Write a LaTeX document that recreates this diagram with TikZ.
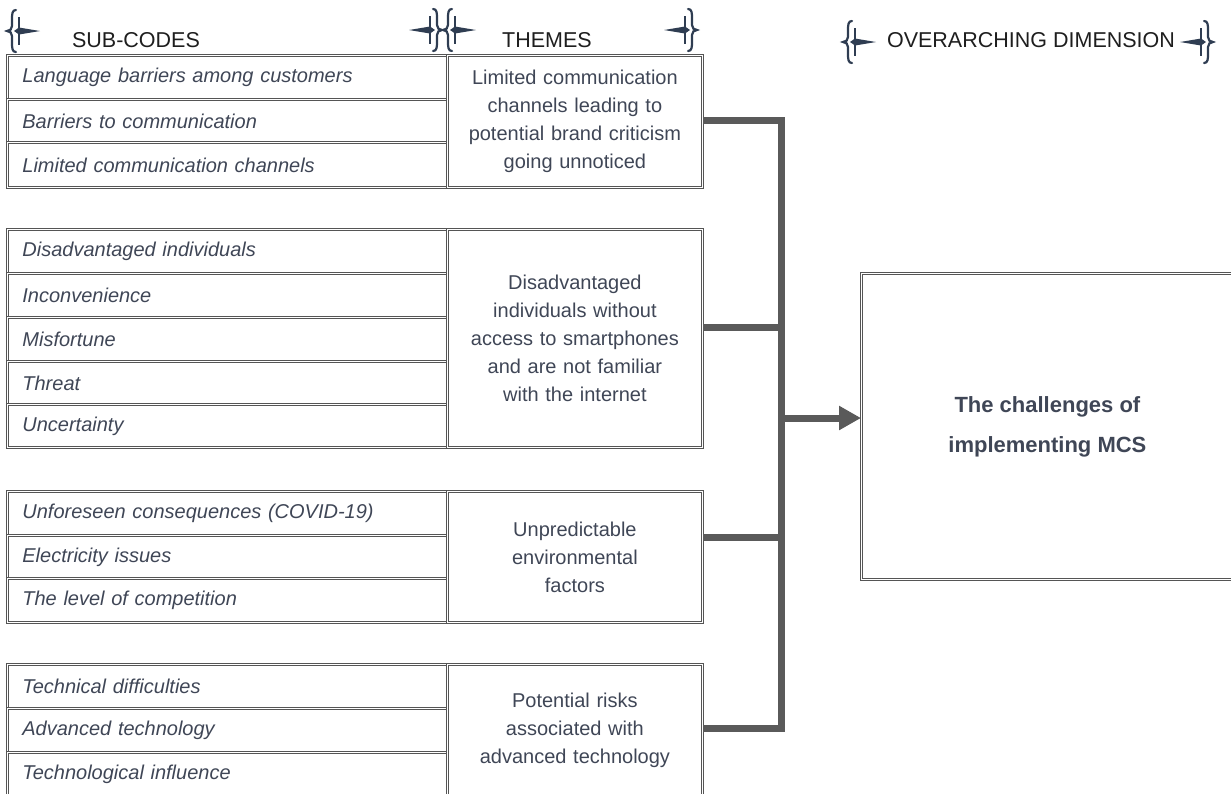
\documentclass[tikz,border=0pt]{standalone}
\usepackage{fontspec}
\setmainfont{Liberation Sans}
\usetikzlibrary{arrows.meta,calc}

\definecolor{txt}{HTML}{3F4656}
\definecolor{hdr}{HTML}{1E1E1E}
\definecolor{rulec}{HTML}{555555}
\definecolor{busc}{HTML}{5A5A5A}
\definecolor{ornc}{HTML}{2F3D52}

\tikzset{
  boxline/.style={draw=rulec, line width=0.8pt, double=white, double distance=1.4pt},
  cell/.style={boxline, rectangle, anchor=north west, minimum width=440pt,
    minimum height=#1, text width=410pt, align=left, inner xsep=15pt, inner ysep=0pt,
    font=\fontsize{20}{24}\selectfont\itshape, text=txt},
  theme/.style={boxline, rectangle, anchor=north west, minimum width=255pt,
    minimum height=#1, text width=235pt, align=center, inner xsep=10pt, inner ysep=0pt,
    font=\fontsize{20}{28}\selectfont, text=txt},
  mainbox/.style={boxline, rectangle, anchor=north west, minimum width=372pt,
    minimum height=306pt, align=center,
    font=\fontsize{22}{40}\selectfont\bfseries, text=txt},
  header/.style={font=\fontsize{21.5}{24}\selectfont, text=hdr, inner sep=0pt},
  bus/.style={draw=busc, line width=7pt},
  ornament/.pic={
    \draw[ornc, line width=2.2pt, line cap=round]
      (5,-21) .. controls (1,-21) and (1,-17) .. (1,-11) -- (1,-5)
      .. controls (1,-2) and (-1,0) .. (-4,0)
      .. controls (-1,0) and (1,2) .. (1,5) -- (1,11)
      .. controls (1,17) and (1,21) .. (5,21);
    \draw[ornc, line width=1.2pt] (8,-14) -- (8,14);
    \fill[ornc] (3,0) -- (8,-3.5) -- (29,0) -- (8,3.5) -- cycle;
  }
}

\begin{document}
\begin{tikzpicture}[x=1pt, y=-1pt]
\useasboundingbox (0,0) rectangle (1231,793);
\clip (0,0) rectangle (1231,793);

% column headings with bracket ornaments
\node[header] (h1) at (136,40) {SUB-CODES};
\node[header] (h2) at (547,40) {THEMES};
\node[header] (h3) at (1031,40) {OVERARCHING DIMENSION};
\pic at (11,31) {ornament};
\pic[xscale=-1] at (438,30) {ornament};
\pic at (447,30) {ornament};
\pic[xscale=-1] at (693,30) {ornament};
\pic at (847,42) {ornament};
\pic[xscale=-1] at (1209,42) {ornament};

% group 1
\node[cell=44pt] (s11) at (7,55) {Language barriers among customers};
\node[cell=43pt] (s12) at (7,99) {Barriers to communication};
\node[cell=45pt] (s13) at (7,142) {Limited communication channels};
\node[theme=132pt] (t1) at (447,55) {Limited communication\\channels leading to\\potential brand criticism\\going unnoticed};

% group 2
\node[cell=44pt] (s21) at (7,229) {Disadvantaged individuals};
\node[cell=44pt] (s22) at (7,273) {Inconvenience};
\node[cell=44pt] (s23) at (7,317) {Misfortune};
\node[cell=43pt] (s24) at (7,361) {Threat};
\node[cell=43pt] (s25) at (7,404) {Uncertainty};
\node[theme=218pt] (t2) at (447,229) {Disadvantaged\\individuals without\\access to smartphones\\and are not familiar\\with the internet};

% group 3
\node[cell=44pt] (s31) at (7,491) {Unforeseen consequences (COVID-19)};
\node[cell=43pt] (s32) at (7,535) {Electricity issues};
\node[cell=44pt] (s33) at (7,578) {The level of competition};
\node[theme=131pt] (t3) at (447,491) {Unpredictable\\environmental\\factors};

% group 4
\node[cell=44pt] (s41) at (7,664) {Technical difficulties};
\node[cell=44pt] (s42) at (7,708) {Advanced technology};
\node[cell=44pt] (s43) at (7,752) {Technological influence};
\node[theme=132pt] (t4) at (447,664) {Potential risks\\associated with\\advanced technology};

% overarching dimension
\node[mainbox] (m) at (861,273) {The challenges of\\implementing MCS};

% collecting bus
\coordinate (b1) at (781,120);
\coordinate (b2) at (781,327);
\coordinate (b3) at (781,537);
\coordinate (b4) at (781,728);
\coordinate (ba) at (781,418);
\draw[bus] (t1.east |- b1) -- (b1) -- (b4) -- (t4.east |- b4);
\draw[bus] (t2.east |- b2) -- (b2);
\draw[bus] (t3.east |- b3) -- (b3);
\draw[bus, -{Triangle[length=22pt,width=23pt]}] (ba) -- (m.west |- ba);
\end{tikzpicture}
\end{document}
